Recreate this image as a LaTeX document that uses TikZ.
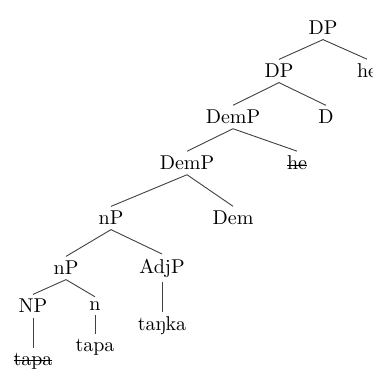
\documentclass[tikz,border=0pt]{standalone}
\usepackage{fontspec}
% struck-through word
\newcommand\strk[1]{\setbox0\hbox{#1}\rlap{\rule[0.5ex]{\wd0}{0.4pt}}\box0}
\begin{document}
\begin{tikzpicture}[x=0.5pt,y=-0.5pt,
  lbl/.style={inner sep=2.2pt, font=\fontsize{10}{12}\selectfont},
  edge/.style={draw=black!75, line width=0.45pt}]
\useasboundingbox (0,0) rectangle (372,373);
% tree labels
\node[lbl] (dp)    at (323,28)  {DP};
\node[lbl] (dp2)   at (279,71)  {DP};
\node[lbl] (he1)   at (367,71)  {he};
\node[lbl] (demp)  at (233,117) {DemP};
\node[lbl] (d)     at (326,117) {D};
\node[lbl] (demp2) at (187,163) {DemP};
\node[lbl] (he2)   at (297,163) {\strk{he}};
\node[lbl] (np1)   at (111,218) {nP};
\node[lbl] (dem)   at (233,218) {Dem};
\node[lbl] (np2)   at (66,268)  {nP};
\node[lbl] (adjp)  at (162,268) {AdjP};
\node[lbl] (NP)    at (33,306)  {NP};
\node[lbl] (n)     at (95,306)  {n};
\node[lbl] (tapa1) at (33,361)  {\strk{tapa}};
\node[lbl] (tapa2) at (95,347)  {tapa};
\node[lbl] (tanka) at (162,326) {taŋka};
% branches
\foreach \p/\c in {dp/dp2, dp/he1, dp2/demp, dp2/d, demp/demp2, demp/he2,
                   demp2/np1, demp2/dem, np1/np2, np1/adjp, np2/NP, np2/n,
                   NP/tapa1, n/tapa2, adjp/tanka}
  \draw[edge] (\p.south) -- (\c.north);
\end{tikzpicture}
\end{document}
